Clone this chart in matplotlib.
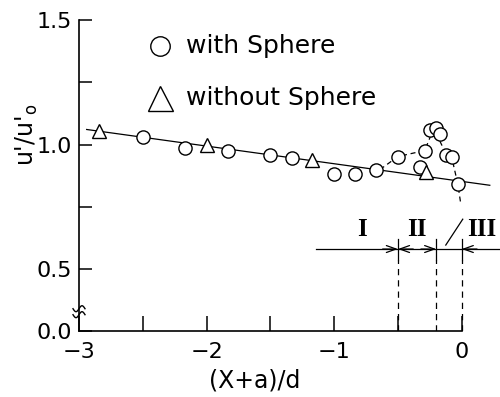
import matplotlib
matplotlib.use("Agg")
import matplotlib.pyplot as plt
import numpy as np

# measured turbulence intensity along the centreline
with_x = [-2.50, -2.17, -1.83, -1.50, -1.33, -1.00, -0.84, -0.67, -0.50,
          -0.33, -0.29, -0.25, -0.20, -0.17, -0.12, -0.08, -0.03]
with_y = [1.032, 0.988, 0.976, 0.960, 0.948, 0.880, 0.880, 0.896, 0.952,
          0.908, 0.976, 1.060, 1.068, 1.044, 0.960, 0.952, 0.840]
without_x = [-2.84, -2.00, -1.17, -0.28]
without_y = [1.056, 1.000, 0.940, 0.888]

# straight fit through the free-stream data
fit_x = [-2.94, 0.22]
fit_a, fit_b = 0.852, -0.071

# hand-drawn trend near the sphere
trend_x = [-0.64, -0.50, -0.29, -0.22, -0.12, -0.08, -0.03, -0.01]
trend_y = [0.900, 0.952, 0.976, 1.065, 0.960, 0.952, 0.840, 0.770]

# flow regions
bounds = [-0.5, -0.2, 0.0]
region_labels = ["I", "II", "III"]
region_x = [-0.78, -0.35, 0.16]
region_y = 0.58

x_ticks = [-3, -2.5, -2, -1.5, -1, -0.5, 0]
x_labels = ["\u22123", "", "\u22122", "", "\u22121", "", "0"]
y_ticks = [0.25, 0.5, 0.75, 1.0, 1.25, 1.5]
y_labels = ["0.0", "0.5", "", "1.0", "", "1.5"]

plt.rcParams["font.family"] = "DejaVu Sans"

fig = plt.figure(figsize=(5.0, 3.97), dpi=100)
ax = fig.add_axes([0.158, 0.166, 0.842, 0.783])
ax.set_xlim(-3, 0.3)
ax.set_ylim(0.25, 1.5)

for s in ["top", "right"]:
    ax.spines[s].set_visible(False)
ax.spines["bottom"].set_bounds(-3, 0)
ax.spines["left"].set_bounds(0.25, 1.5)
for s in ["bottom", "left"]:
    ax.spines[s].set_linewidth(1.2)

ax.set_xticks(x_ticks)
ax.set_xticklabels(x_labels)
ax.set_yticks(y_ticks)
ax.set_yticklabels(y_labels)
ax.tick_params(axis="x", direction="in", length=11, width=1.1, pad=8, labelsize=16)
ax.tick_params(axis="y", direction="in", length=9, width=1.1, pad=5, labelsize=16)

# fit line
fx = np.array(fit_x)
ax.plot(fx, fit_a + fit_b * fx, color="black", lw=0.9, zorder=2)

# dashed trend
ax.plot(trend_x, trend_y, color="black", lw=0.9, ls=(0, (4, 3)), zorder=2)

ax.plot(with_x, with_y, ls="none", marker="o", ms=9.5, mfc="white",
        mec="black", mew=1.0, zorder=3)
ax.plot(without_x, without_y, ls="none", marker="^", ms=10, mfc="white",
        mec="black", mew=1.0, zorder=3)

# legend
ax.plot([-2.366], [1.396], marker="o", ms=14, mfc="white", mec="black", mew=1.0)
ax.plot([-2.366], [1.188], marker="^", ms=18, mfc="white", mec="black", mew=1.0)
ax.text(-2.16, 1.396, "with Sphere", fontsize=18, va="center", ha="left")
ax.text(-2.16, 1.188, "without Sphere", fontsize=18, va="center", ha="left")

# region markers
ax.plot([-1.14, 0.3], [region_y, region_y], color="black", lw=0.9, clip_on=False)
for b in bounds:
    ax.plot([b, b], [region_y - 0.045, region_y + 0.04], color="black", lw=0.9)
    ax.plot([b, b], [0.25, region_y - 0.045], color="black", lw=0.9,
            ls=(0, (5, 4)))
arrow_kw = dict(arrowstyle="->,head_length=0.7,head_width=0.25", lw=0.9,
                color="black", shrinkA=0, shrinkB=0)
for b, side in [(bounds[0], -1), (bounds[0], 1), (bounds[1], -1), (bounds[2], 1)]:
    ax.annotate("", xy=(b, region_y), xytext=(b + side * 0.12, region_y),
                arrowprops=arrow_kw)
for lab, xp in zip(region_labels, region_x):
    ax.text(xp, region_y + 0.08, lab, fontsize=18, fontweight="bold",
            family="Liberation Serif", ha="center", va="center")
ax.plot([0.008, -0.125], [0.70, 0.596], color="black", lw=0.9)

# axis break on the y spine
t = np.linspace(-1, 1, 30)
for yb in [0.316, 0.34]:
    ax.plot(-3 + 0.047 * t, yb + 0.012 * np.sin(np.pi * t), color="black",
            lw=1.0, clip_on=False)

ax.text(-0.124, 0.63, "u'/u'$_\\mathrm{o}$", transform=ax.transAxes,
        rotation=90, fontsize=17, ha="center", va="center")
ax.text(0.418, -0.158, "(X+a)/d", transform=ax.transAxes, fontsize=17,
        ha="center", va="center")

fig.savefig("out.png", dpi=100)
